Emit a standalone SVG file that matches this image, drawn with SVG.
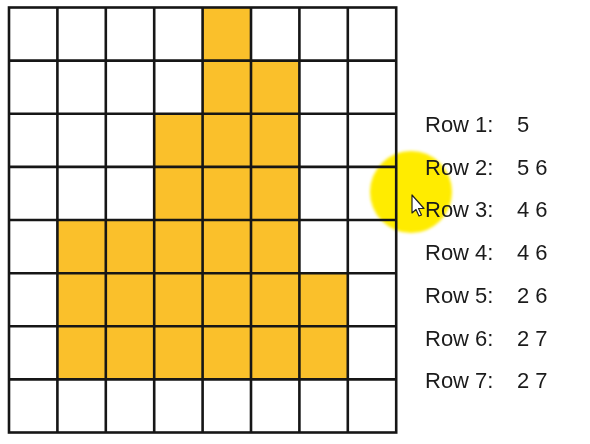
<svg xmlns="http://www.w3.org/2000/svg" width="590" height="444" viewBox="0 0 590 444">
  <defs>
    <style>
      .fill { fill: #FAC02B; }
      .grid { stroke: #161616; stroke-width: 2.6; fill: none; }
      .lbl { font-family: "Liberation Sans", Arial, sans-serif; font-size: 22px; fill: #1b1b1b; }
    </style>
    <filter id="soft" x="-20%" y="-20%" width="140%" height="140%">
      <feGaussianBlur stdDeviation="1.5"/>
    </filter>
  </defs>
  <rect width="590" height="444" fill="#ffffff"/>

  <g id="filled-cells">
    <!-- row 0 -->
    <rect class="fill" x="202.6" y="7.5" width="48.4" height="53.1"/>
    <!-- row 1 -->
    <rect class="fill" x="202.6" y="60.6" width="96.8" height="53.2"/>
    <!-- rows 2-3 -->
    <rect class="fill" x="154.2" y="113.8" width="145.2" height="106.2"/>
    <!-- row 4 -->
    <rect class="fill" x="57.4" y="220" width="242" height="53.2"/>
    <!-- rows 5-6 -->
    <rect class="fill" x="57.4" y="273.2" width="290.4" height="106.2"/>
  </g>

  <g id="highlight" style="mix-blend-mode:multiply">
    <circle cx="411" cy="192" r="41" fill="#FFEC00" filter="url(#soft)"/>
  </g>

  <g id="grid" class="grid">
    <rect x="9" y="7.5" width="387.2" height="425"/>
    <path d="M57.4 7.5V432.5M105.8 7.5V432.5M154.2 7.5V432.5M202.6 7.5V432.5M251 7.5V432.5M299.4 7.5V432.5M347.8 7.5V432.5"/>
    <path d="M9 60.6H396.2M9 113.8H396.2M9 166.9H396.2M9 220H396.2M9 273.2H396.2M9 326.3H396.2M9 379.4H396.2"/>
  </g>

  <g id="row1"><text class="lbl" x="425" y="131.7">Row 1:</text><text class="lbl" x="517" y="131.7">5</text></g>
  <g id="row2"><text class="lbl" x="425" y="174.5">Row 2:</text><text class="lbl" x="517" y="174.5">5 6</text></g>
  <g id="row3"><text class="lbl" x="425" y="217.3">Row 3:</text><text class="lbl" x="517" y="217.3">4 6</text></g>
  <g id="row4"><text class="lbl" x="425" y="260">Row 4:</text><text class="lbl" x="517" y="260">4 6</text></g>
  <g id="row5"><text class="lbl" x="425" y="302.8">Row 5:</text><text class="lbl" x="517" y="302.8">2 6</text></g>
  <g id="row6"><text class="lbl" x="425" y="345.6">Row 6:</text><text class="lbl" x="517" y="345.6">2 7</text></g>
  <g id="row7"><text class="lbl" x="425" y="388.3">Row 7:</text><text class="lbl" x="517" y="388.3">2 7</text></g>

  <g id="cursor">
    <path d="M412 195 L412 213 L416 209.5 L419 216 L421.5 215 L418.5 208.5 L424 208.5 Z" fill="#ffffff" stroke="#222222" stroke-width="1.2" stroke-linejoin="round"/>
  </g>
</svg>
